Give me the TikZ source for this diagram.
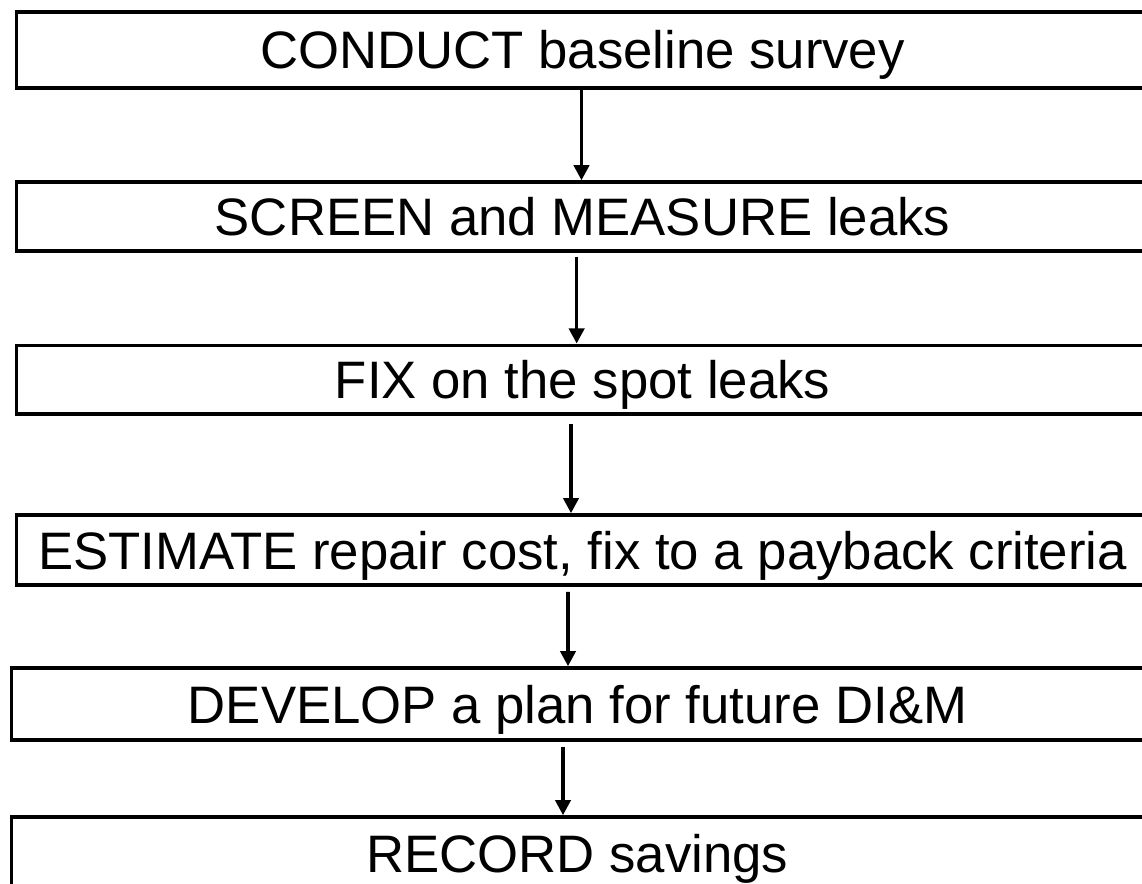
\documentclass[tikz,border=0pt]{standalone}
\usepackage{fontspec}
\setmainfont{Liberation Sans}
\usetikzlibrary{arrows.meta, positioning}

\begin{document}
\begin{tikzpicture}[auto, node distance=4cm, >={Triangle[length=0.38cm, width=0.38cm]}, line width=0.09cm]
        % Estilos de las cajas del procedimiento
        \tikzstyle{stage} = [draw, rectangle, inner sep=0pt, text depth=0pt, minimum width=28.3cm, minimum height=1.72cm, font=\fontsize{37.5}{44}\selectfont]

        \useasboundingbox (0,0) rectangle (28.55,-22.075);
        \clip (0,0) rectangle (28.55,-22.075);

        % Nodes
        \node at (14.5625,-1.244) [stage, minimum height=1.9cm] (conduct) {CONDUCT baseline survey};
        \node [stage, on grid, below=4.169cm of conduct] (screen) {SCREEN and MEASURE leaks};
        \node [stage, on grid, below=4.081cm of screen] (fix) {FIX on the spot leaks};
        \node [stage, on grid, below=4.256cm of fix, minimum height=1.75cm] (estimate) {ESTIMATE repair cost, fix to a payback criteria};
        \node [stage, on grid, below=3.85cm of estimate, xshift=-0.125cm, minimum height=1.8cm] (develop) {DEVELOP a plan for future DI\&M};
        \node [stage, on grid, below=3.725cm of develop, minimum height=1.8cm] (record) {RECORD savings};

        % Lines
        \draw [->] ([xshift=-0.025cm]conduct.south) -- ([xshift=-0.025cm]screen.north);
        \draw [->, shorten <=0.1cm] ([xshift=-0.146cm]screen.south) -- ([xshift=-0.146cm]fix.north);
        \draw [->, shorten <=0.2cm] ([xshift=-0.2875cm]fix.south) -- ([xshift=-0.2875cm]estimate.north);
        \draw [->, shorten <=0.125cm] ([xshift=-0.3625cm]estimate.south) -- ([xshift=-0.2375cm]develop.north);
        \draw [->, shorten <=0.125cm] ([xshift=-0.3625cm]develop.south) -- ([xshift=-0.3625cm]record.north);

\end{tikzpicture}
\end{document}
